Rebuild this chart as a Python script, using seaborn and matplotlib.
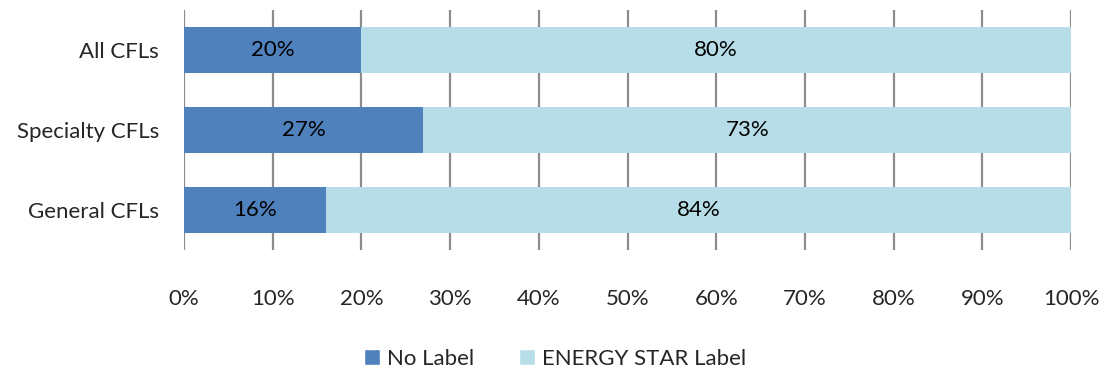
import matplotlib
matplotlib.use("Agg")
import matplotlib.pyplot as plt
import seaborn as sns
import pandas as pd
from matplotlib.patches import Patch

categories = ["All CFLs", "Specialty CFLs", "General CFLs"]
no_label = [20, 27, 16]
energy_star = [80, 73, 84]
series_names = ["No Label", "ENERGY STAR Label"]
tick_values = [0, 10, 20, 30, 40, 50, 60, 70, 80, 90, 100]

dark_blue = "#4F81BD"
light_blue = "#B7DEE8"
grid_gray = "#8C8C8C"

sns.set_theme(style="white")
plt.rcParams["font.family"] = ["Lato", "DejaVu Sans"]

FS = 16

df = pd.DataFrame({
    "category": categories,
    "no_label": no_label,
    "energy_star": energy_star,
})
df["total"] = df["no_label"] + df["energy_star"]

fig = plt.figure(figsize=(11.09, 3.74), dpi=100)
ax = fig.add_axes([184 / 1109, 1 - 250 / 374, (1071 - 184) / 1109, 240 / 374])

# stacked bars: full length in light blue, then the "No Label" share on top
sns.barplot(data=df, y="category", x="total", orient="h", color=light_blue,
            width=0.575, saturation=1, ax=ax, linewidth=0)
sns.barplot(data=df, y="category", x="no_label", orient="h", color=dark_blue,
            width=0.575, saturation=1, ax=ax, linewidth=0)

for i, (a, b) in enumerate(zip(no_label, energy_star)):
    ax.text(a / 2, i, f"{a}%", ha="center", va="center", fontsize=FS, color="black")
    ax.text(a + b / 2, i, f"{b}%", ha="center", va="center", fontsize=FS, color="black")

ax.set_xlim(0, 100)
ax.set_ylim(2.5, -0.5)
ax.set_xticks(tick_values)
ax.set_xticklabels([f"{t}%" for t in tick_values], fontsize=FS)
ax.tick_params(axis="x", length=0, pad=28)
ax.tick_params(axis="y", length=0, pad=18, labelsize=FS)
ax.set_xlabel("")
ax.set_ylabel("")
for s in ax.spines.values():
    s.set_visible(False)
ax.set_axisbelow(True)
ax.grid(axis="x", color=grid_gray, linewidth=1.6)
ax.grid(axis="y", visible=False)

handles = [Patch(facecolor=dark_blue, label=series_names[0]),
           Patch(facecolor=light_blue, label=series_names[1])]
fig.legend(handles=handles, loc="center", bbox_to_anchor=(555 / 1109, 1 - 359 / 374),
           ncol=2, frameon=False, fontsize=FS, handlelength=0.75, handleheight=0.75,
           handletextpad=0.3, columnspacing=2.0, borderpad=0)

fig.savefig("out.png", dpi=100)
